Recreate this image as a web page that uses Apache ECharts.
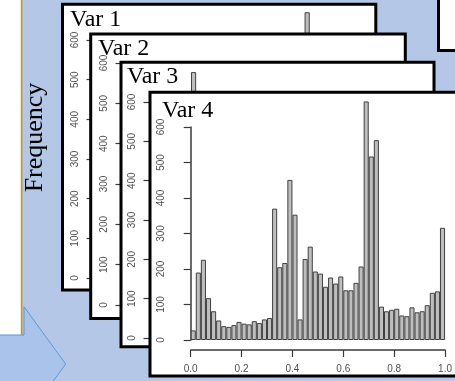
<!DOCTYPE html>
<html><head><meta charset="utf-8">
<script src="https://cdn.jsdelivr.net/npm/echarts@6/dist/echarts.min.js"></script>
<style>html,body{margin:0;padding:0;background:#b4c7e7}#c{width:455px;height:381px}</style>
</head><body><div id="c"></div>
<script>
// ---- data ----
const binStarts = [0.00,0.02,0.04,0.06,0.08,0.10,0.12,0.14,0.16,0.18,
                   0.20,0.22,0.24,0.26,0.28,0.30,0.32,0.34,0.36,0.38,
                   0.40,0.42,0.44,0.46,0.48,0.50,0.52,0.54,0.56,0.58,
                   0.60,0.62,0.64,0.66,0.68,0.70,0.72,0.74,0.76,0.78,
                   0.80,0.82,0.84,0.86,0.88,0.90,0.92,0.94,0.96,0.98];
const yTickLabels = ['0','100','200','300','400','500','600'];
const xTickLabels = ['0.0','0.2','0.4','0.6','0.8','1.0'];
const panelTitles = ['Var 1','Var 2','Var 3','Var 4'];
const yAxisTitle = 'Frequency';
// Var 1-3 are mostly hidden behind the next panel: only the bins that can be read are filled, others null.
const var1Counts = [null,null,null,null,null,null,null,null,null,null,
                    null,null,null,null,null,null,null,null,null,null,
                    null,null,null,null,null,null,null,null,null,null,
                    null,null,null,null,null,null,null,null,null,670,
                    null,null,null,null,null,null,null,null,null,null];
const var2Counts = [null,null,null,null,null,null,null,null,null,null,
                    null,null,null,null,null,null,null,null,null,null,
                    null,null,null,null,null,null,null,null,null,null,
                    null,null,null,null,null,null,null,null,null,null,
                    null,null,null,null,null,null,null,null,null,null];
const var3Counts = [null,null,null,null,null,null,676,null,null,null,
                    null,null,null,null,null,null,null,null,null,null,
                    null,null,null,null,null,null,null,null,null,null,
                    null,null,null,null,null,null,null,null,null,null,
                    null,null,null,null,null,null,null,null,null,null];
const var4Counts = [27,190,226,118,81,55,39,37,42,51,
                    46,44,53,48,58,62,370,205,217,451,
                    353,58,228,263,193,187,150,176,159,179,
                    140,140,161,207,672,517,563,94,81,85,
                    88,69,67,92,78,81,98,133,137,316];
const allCounts = [var1Counts, var2Counts, var3Counts, var4Counts];

// ---- layout ----
const layout = [
  {box:[62.5,4.3,313.3,285.7], title:[70,8],    grid:{left:103.1,top:40, width:258.3,height:238}, axisX:93.5},
  {box:[90.7,34,314.6,284.5],  title:[98,37],   grid:{left:132,  top:63, width:258.3,height:242}, axisX:122.5},
  {box:[121,62.3,313,284.4],   title:[127,65],  grid:{left:160,  top:102,width:258.3,height:236}, axisX:150.5},
  {box:[150,92.3,313,283.7],   title:[162,98.5],grid:{left:190.7,top:127,width:258.3,height:213}, axisX:180}
];
const sans = '"Liberation Sans", Arial, sans-serif';
const serif = '"Liberation Serif", "Times New Roman", serif';
const labelColor = '#505050';
const axisColor = '#3a3a3a';

const grids = [], xAxes = [], yAxes = [], series = [];
const graphics = [
  {type:'rect', z:1, shape:{x:0,y:0,width:21.5,height:335}, style:{fill:'#ffffff'}},
  {type:'line', z:2, shape:{x1:21.6,y1:0,x2:21.6,y2:335}, style:{stroke:'#c9961a',lineWidth:1.6}},
  {type:'polygon', z:2, shape:{points:[[-5,335],[24,335],[24,306.7],[65.7,364],[24,421.3],[24,393],[-5,393]]},
    style:{fill:'#a9c3ea',stroke:'#5b9bd5',lineWidth:1}},
  {type:'rect', z:2, shape:{x:438.5,y:-10,width:40,height:60.5}, style:{fill:'#ffffff',stroke:'#000',lineWidth:3}},
  {type:'text', z:3, x:35.5, y:137.5, rotation:Math.PI/2,
    style:{text:yAxisTitle, font:'26px '+serif, fill:'#000', align:'center', verticalAlign:'middle'}}
];

layout.forEach((L, k) => {
  const zb = 10*(k+1);
  graphics.push({type:'rect', z:zb, shape:{x:L.box[0],y:L.box[1],width:L.box[2],height:L.box[3]},
    style:{fill:'#ffffff',stroke:'#000',lineWidth:3}});
  graphics.push({type:'text', z:zb+3, x:L.title[0], y:L.title[1],
    style:{text:panelTitles[k], font:'24px '+serif, fill:'#000', align:'left', verticalAlign:'top'}});
  grids.push({left:L.grid.left, top:L.grid.top, width:L.grid.width, height:L.grid.height, containLabel:false});
  xAxes.push({type:'category', gridIndex:k, data:binStarts, boundaryGap:true, show:false});
  yAxes.push({type:'value', gridIndex:k, min:0, max:600, interval:100, z:zb+1,
    offset: L.grid.left - L.axisX,
    axisLine:{show:true, lineStyle:{color:axisColor,width:1.5}},
    axisTick:{show:true, length:7, lineStyle:{color:axisColor,width:1.2}},
    splitLine:{show:false},
    axisLabel:{rotate:90, fontSize:10, fontFamily:sans, color:labelColor, margin:13.5,
      formatter:(v, i) => yTickLabels[i]}});
  series.push({type:'bar', xAxisIndex:k, yAxisIndex:k, data:allCounts[k], z:zb+2,
    barWidth:'100%', barCategoryGap:'0%', clip:false, silent:true, animation:false,
    itemStyle:{color:'#bebebe', borderColor:'#404040', borderWidth:1}});
});
// visible value axis under Var 4
xAxes.push({type:'value', gridIndex:3, position:'bottom', min:0, max:1, interval:0.2, offset:10, z:41,
  axisLine:{show:true, lineStyle:{color:axisColor,width:1.5}},
  axisTick:{show:true, length:7, lineStyle:{color:axisColor,width:1.2}},
  splitLine:{show:false},
  axisLabel:{fontSize:10, fontFamily:sans, color:labelColor, margin:14,
    formatter:(v, i) => xTickLabels[i]}});

const chart = echarts.init(document.getElementById('c'), null, {renderer:'canvas'});
chart.setOption({
  backgroundColor:'#b4c7e7',
  animation:false,
  grid:grids, xAxis:xAxes, yAxis:yAxes, series:series,
  graphic:graphics
});
</script></body></html>
